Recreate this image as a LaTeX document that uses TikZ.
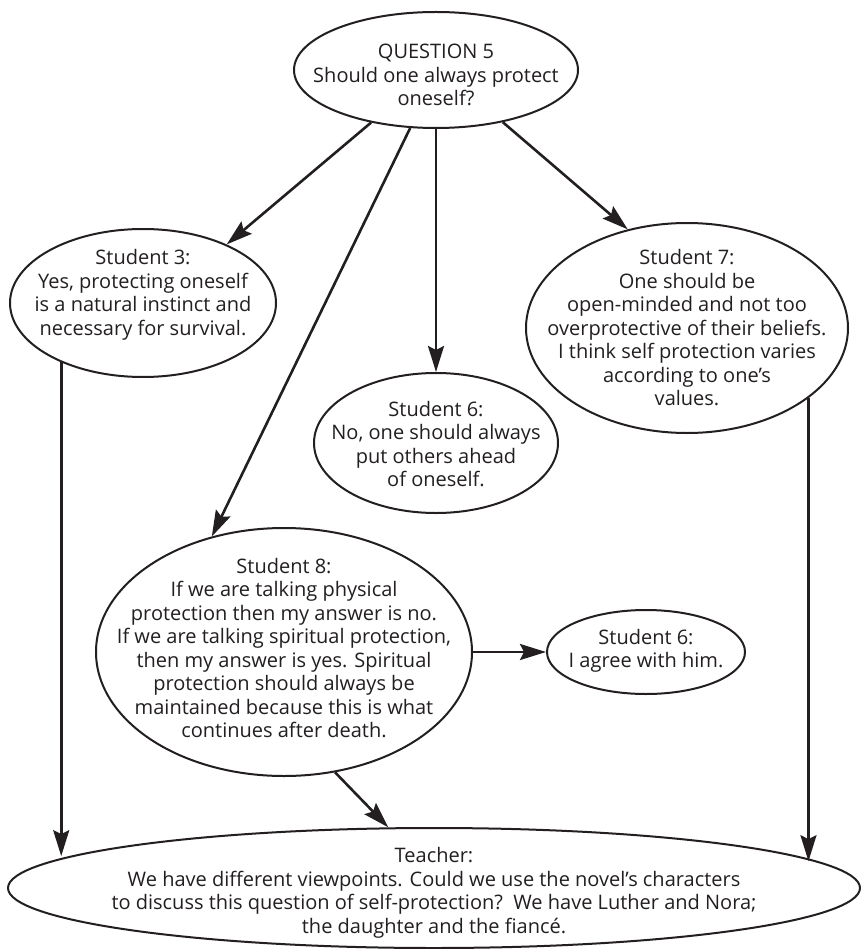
\documentclass[tikz,border=0pt]{standalone}
\usepackage{fontspec}
\setmainfont{Open Sans}
\usetikzlibrary{arrows.meta,shapes.geometric}
\definecolor{ink}{HTML}{231F20}
\begin{document}
\begin{tikzpicture}[x=1pt,y=-1pt,
  bubble/.style 2 args={ellipse,draw=ink,line width=2pt,fill=white,inner sep=0pt,
    minimum width=#1,minimum height=#2},
  txt/.style={font=\fontsize{20}{23.5}\selectfont,text=ink,align=center,inner sep=0pt},
  arr/.style={draw=ink,line width=2.6pt,-{Stealth[length=26pt,width=16pt,inset=4pt]}}]
\useasboundingbox (0,0) rectangle (863,949);

% discussion bubbles
\node[bubble={284}{116},label={[txt,yshift=-5pt]center:{QUESTION 5\\Should one always protect\\oneself?}}] (q5) at (436,70) {};
\node[bubble={266}{148},label={[txt,yshift=8pt]center:{Student 3:\\Yes, protecting oneself\\is a natural instinct and\\necessary for survival.}}] (s3) at (143,303) {};
\node[bubble={322}{210},label={[txt]center:{Student 7:\\One should be\\open-minded and not too\\overprotective of their beliefs.\\I think self protection varies\\according to one’s\\values.}}] (s7) at (687,328) {};
\node[bubble={244}{140},label={[txt,yshift=-1pt]center:{Student 6:\\No, one should always\\put others ahead\\of oneself.}}] (s6m) at (436,443) {};
\node[bubble={376}{248},label={[txt,yshift=4pt]center:{Student 8:\\If we are talking physical\\protection then my answer is no.\\If we are talking spiritual protection,\\then my answer is yes. Spiritual\\protection should always be\\maintained because this is what\\continues after death.}}] (s8) at (284,652) {};
\node[bubble={198}{84},label={[txt,yshift=1pt]center:{Student 6:\\I agree with him.}}] (s6r) at (646,652) {};
\node[bubble={852}{120},label={[txt,yshift=-5pt]center:{Teacher:\\We have different viewpoints. Could we use the novel’s characters\\to discuss this question of self-protection?\ \ We have Luther and Nora;\\the daughter and the fiancé.}}] (tch) at (434,888) {};

% connectors
\draw[arr] (q5.219.5) -- (s3.35.9);
\draw[arr] (q5.246.5) -- (s8.122);
\draw[arr] (q5.south) -- (s6m.north);
\draw[arr] (q5.322.2) -- (s7.121);
\draw[arr] (s3.216.5) -- (s3.216.5 |- tch.175.45);
\draw[arr] (s7.330.2) -- (s7.330.2 |- tch.4.39);
\draw[arr] (s8.east) -- (s6r.west);
\draw[arr] (s8.293.1) -- (tch.127.5);
\end{tikzpicture}
\end{document}
